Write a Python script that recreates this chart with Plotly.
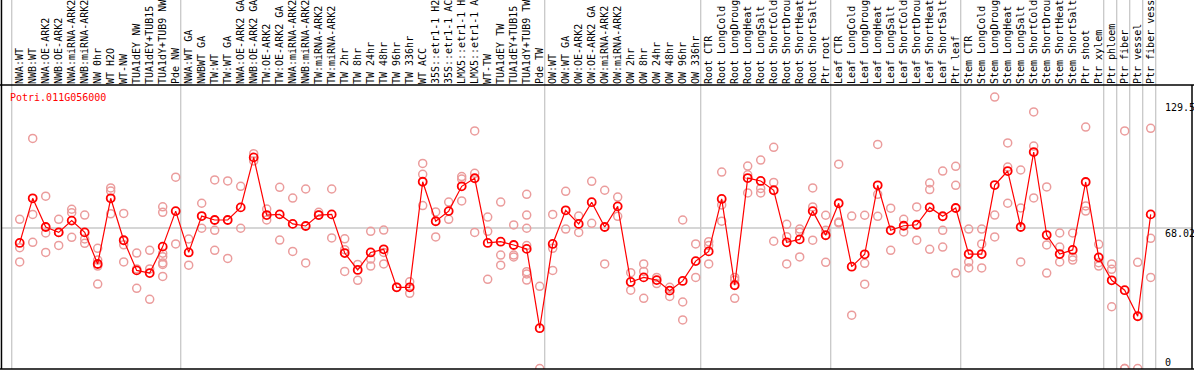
import plotly.graph_objects as go

labels = ["NWA:WT", "NWB:WT", "NWA:OE-ARK2", "NWB:OE-ARK2", "NWA:miRNA-ARK2", "NWB:miRNA-ARK2",
          "NW 0hr", "WT H2O", "WT-NW", "TUA1dEY NW", "TUA1dEY+TUB15 NW", "TUA1dY+TUB9 NW", "Pde NW",
          "NWA:WT GA", "NWBWT GA", "TW:WT", "TW:WT GA", "NWA:OE-ARK2 GA", "NWB:OE-ARK2 GA",
          "TW:OE-ARK2", "TW:OE-ARK2 GA", "NWA:miRNA-ARK2 GA", "NWB:miRNA-ARK2 GA", "TW:miRNA-ARK2",
          "TW:miRNA-ARK2 GA", "TW 2hr", "TW 8hr", "TW 24hr", "TW 48hr", "TW 96hr", "TW 336hr",
          "WT ACC", "35S::etr1-1 H2O", "35S::etr1-1 ACC", "LMX5::etr1-1 H2O", "LMX5::etr1-1 ACC",
          "WT-TW", "TUA1dEY TW", "TUA1dEY+TUB15 TW", "TUA1dY+TUB9 TW", "Pde TW",
          "OW:WT", "OW:WT GA", "OW:OE-ARK2", "OW:OE-ARK2 GA", "OW:miRNA-ARK2", "OW:miRNA-ARK2 GA",
          "OW 2hr", "OW 8hr", "OW 24hr", "OW 48hr", "OW 96hr", "OW 336hr",
          "Root CTR", "Root LongCold", "Root LongDrought", "Root LongHeat", "Root LongSalt",
          "Root ShortCold", "Root ShortDrought", "Root ShortHeat", "Root ShortSalt", "Ptr root",
          "Leaf CTR", "Leaf LongCold", "Leaf LongDrought", "Leaf LongHeat", "Leaf LongSalt",
          "Leaf ShortCold", "Leaf ShortDrought", "Leaf ShortHeat", "Leaf ShortSalt", "Ptr leaf",
          "Stem CTR", "Stem LongCold", "Stem LongDrought", "Stem LongHeat", "Stem LongSalt",
          "Stem ShortCold", "Stem ShortDrought", "Stem ShortHeat", "Stem ShortSalt",
          "Ptr shoot", "Ptr xylem", "Ptr phloem", "Ptr fiber", "Ptr vessel", "Ptr fiber vessel"]

means = [60.8, 82.4, 68.5, 65.9, 71.6, 65.9, 50.6, 82.4, 62.1, 47.5, 46.2, 59.0, 76.2,
         56.2, 73.8, 71.9, 71.9, 78.0, 102.2, 74.3, 74.6, 70.0, 69.0, 74.3, 74.6, 55.9, 47.7,
         56.2, 57.7, 39.3, 39.3, 90.4, 71.3, 76.2, 88.2, 92.1, 60.8, 61.4, 59.8, 57.9, 19.5,
         60.3, 76.6, 70.0, 80.5, 68.5, 78.5, 41.9, 44.1, 42.8, 37.7, 42.4, 52.0,
         56.7, 82.1, 40.3, 92.2, 90.8, 86.3, 61.1, 62.5, 76.2, 64.5,
         80.0, 49.3, 55.3, 88.7, 66.9, 69.1, 69.6, 78.0, 73.7, 77.7,
         55.4, 55.4, 88.8, 95.6, 68.5, 104.8, 64.6, 55.4, 57.4, 90.3, 53.8,
         42.7, 37.9, 25.3, 74.6]

replicates = [
    [72.2, 58.5, 51.6], [111.4, 74.6, 61.1], [83.4, 65.6, 56.2], [72.2, 65.9, 59.6],
    [77.1, 75.4, 63.5], [74.3, 62.7, 60.6], [58.2, 52.5, 49.6, 40.9], [87.4, 85.9, 74.9],
    [75.1, 59.9, 51.6], [55.9, 48.2, 38.8], [57.2, 48.2, 33.5],
    [78.3, 75.6, 55.8, 54.1, 51.1, 50.4, 44.6], [92.6, 60.3],
    [62.7, 50.0], [80.0, 67.9], [91.3, 66.9, 57.2], [90.8, 53.3], [88.2, 67.9],
    [104.0, 100.5], [77.2, 71.9], [87.7, 62.2], [82.5, 56.7], [86.9, 51.1], [75.6, 74.3],
    [86.9, 63.2], [62.8, 57.5, 47.0], [50.4, 42.7], [66.4, 53.0, 49.6], [67.0, 56.2, 50.6],
    [39.3], [42.0, 36.4], [99.3, 94.0, 78.9], [75.8, 63.7], [80.6, 72.2], [92.9, 91.7, 81.1],
    [115.0, 94.5, 65.9], [73.3, 66.4, 43.2], [80.6, 54.9, 50.0], [69.5, 54.9, 54.0],
    [84.3, 74.3, 67.9, 59.5, 46.9, 45.8, 42.8], [39.8, 0.0],
    [74.6, 58.2, 47.5], [85.8, 67.5], [73.8, 65.9], [90.6, 70.3], [86.3, 50.6], [83.0, 73.7],
    [46.4, 37.9], [50.6, 47.0, 34.0], [44.1, 41.1], [39.3, 34.9], [71.9, 32.2, 23.5],
    [60.3, 44.1],
    [61.4, 59.5, 50.6], [95.1, 79.2, 71.3], [44.1, 42.8, 34.0], [98.0, 93.8, 85.0],
    [100.9, 87.2, 85.0], [107.1, 90.1, 61.6], [69.8, 63.8, 50.6], [67.5, 66.0, 54.0],
    [87.4, 78.2, 62.1], [74.2, 66.9, 51.4],
    [98.9, 70.9, 70.5], [73.8, 25.8], [74.2, 50.9, 40.8], [108.5, 84.3, 73.7], [77.6, 57.2],
    [72.2, 66.1], [78.2, 62.1], [89.8, 86.6, 57.7], [95.6, 66.9, 58.8], [97.9, 88.7, 46.2],
    [67.5, 51.6, 48.7], [67.5, 60.3, 48.7], [131.4, 74.3, 63.7], [109.2, 97.5, 80.0],
    [96.1, 77.7, 51.6], [124.2, 107.7, 82.6], [87.9, 59.8, 46.2], [65.6, 58.8, 51.6],
    [65.6, 52.5, 54.0], [116.9, 78.7, 76.2], [60.1, 51.2, 49.6],
    [50.6, 48.0, 29.9], [115.0, 0.0, 0.0], [51.4, 0.0], [116.3, 63.0, 44.1]]

group_ends = [0, 13, 41, 53, 63, 73, 84, 85, 86, 87, 88]
ref_value = 68.02
axis_labels = ["129.5", "68.02", "0"]
axis_values = [129.5, 68.02, 0]
gene = "Potri.011G056000"

xs = list(range(1, len(labels) + 1))
rep_x, rep_y = [], []
for i, reps in zip(xs, replicates):
    for v in reps:
        rep_x.append(i)
        rep_y.append(v)

fig = go.Figure()
fig.add_trace(go.Scatter(x=rep_x, y=rep_y, mode="markers",
                         marker=dict(symbol="circle-open", size=8, color="#EB9C9C",
                                     line=dict(width=1.5, color="#EB9C9C")),
                         hoverinfo="skip", showlegend=False))
fig.add_trace(go.Scatter(x=xs, y=means, mode="lines+markers",
                         line=dict(color="#FF0000", width=1.2),
                         marker=dict(symbol="circle-open", size=8, color="#FF0000",
                                     line=dict(width=1.8, color="#FF0000")),
                         showlegend=False))

shapes = []
for g in group_ends:
    shapes.append(dict(type="line", xref="x", yref="paper", x0=g + 0.385, x1=g + 0.385,
                       y0=0, y1=1.31, line=dict(color="#C8C8C8", width=1.3), layer="below"))
shapes.append(dict(type="line", xref="paper", yref="y", x0=0, x1=1, y0=ref_value, y1=ref_value,
                   line=dict(color="#C8C8C8", width=1.3), layer="below"))
# frame
ptop = 1 + 85 / 284
shapes += [
    dict(type="line", xref="paper", yref="paper", x0=-0.01, x1=1.01, y0=1, y1=1,
         line=dict(color="black", width=1.5)),
    dict(type="line", xref="paper", yref="paper", x0=-0.01, x1=1.01, y0=0, y1=0,
         line=dict(color="black", width=1.5)),
    dict(type="line", xref="paper", yref="paper", x0=0.0004, x1=0.0004, y0=0, y1=ptop,
         line=dict(color="black", width=1.5)),
    dict(type="line", xref="paper", yref="paper", x0=1, x1=1, y0=0, y1=1,
         line=dict(color="black", width=1.5)),
]

annotations = [dict(text=gene, xref="paper", yref="paper", x=(8 - 1) / 1191, y=(369 - 97) / 284,
                    xanchor="left", yanchor="middle", showarrow=False,
                    font=dict(family="DejaVu Sans Mono", size=10, color="#FF0000"))]
shifts = [-6, -5, 6]
for t, v, s in zip(axis_labels, axis_values, shifts):
    annotations.append(dict(text=t, xref="paper", yref="y", x=(1163 - 1) / 1191, y=v, yshift=s,
                            xanchor="left", yanchor="middle", showarrow=False,
                            font=dict(family="DejaVu Sans Mono", size=10, color="black")))

fig.update_layout(
    width=1194, height=370,
    margin=dict(l=1, r=2, t=85, b=1, pad=0),
    paper_bgcolor="white", plot_bgcolor="white",
    template="none",
    shapes=shapes, annotations=annotations,
    xaxis=dict(range=[-0.4385, 91.177], side="top", tickmode="array", tickvals=xs,
               ticktext=labels, tickangle=-90, ticks="", showgrid=False, zeroline=False,
               showline=False, automargin=False,
               tickfont=dict(family="DejaVu Sans Mono", size=10, color="black")),
    yaxis=dict(range=[-0.24, 137.25], showticklabels=False, ticks="", showgrid=False,
               zeroline=False, showline=False, automargin=False),
)

fig.write_html("out.html", config={"displayModeBar": False},
               post_script="document.body.style.margin='0';document.body.style.overflow='hidden';")
